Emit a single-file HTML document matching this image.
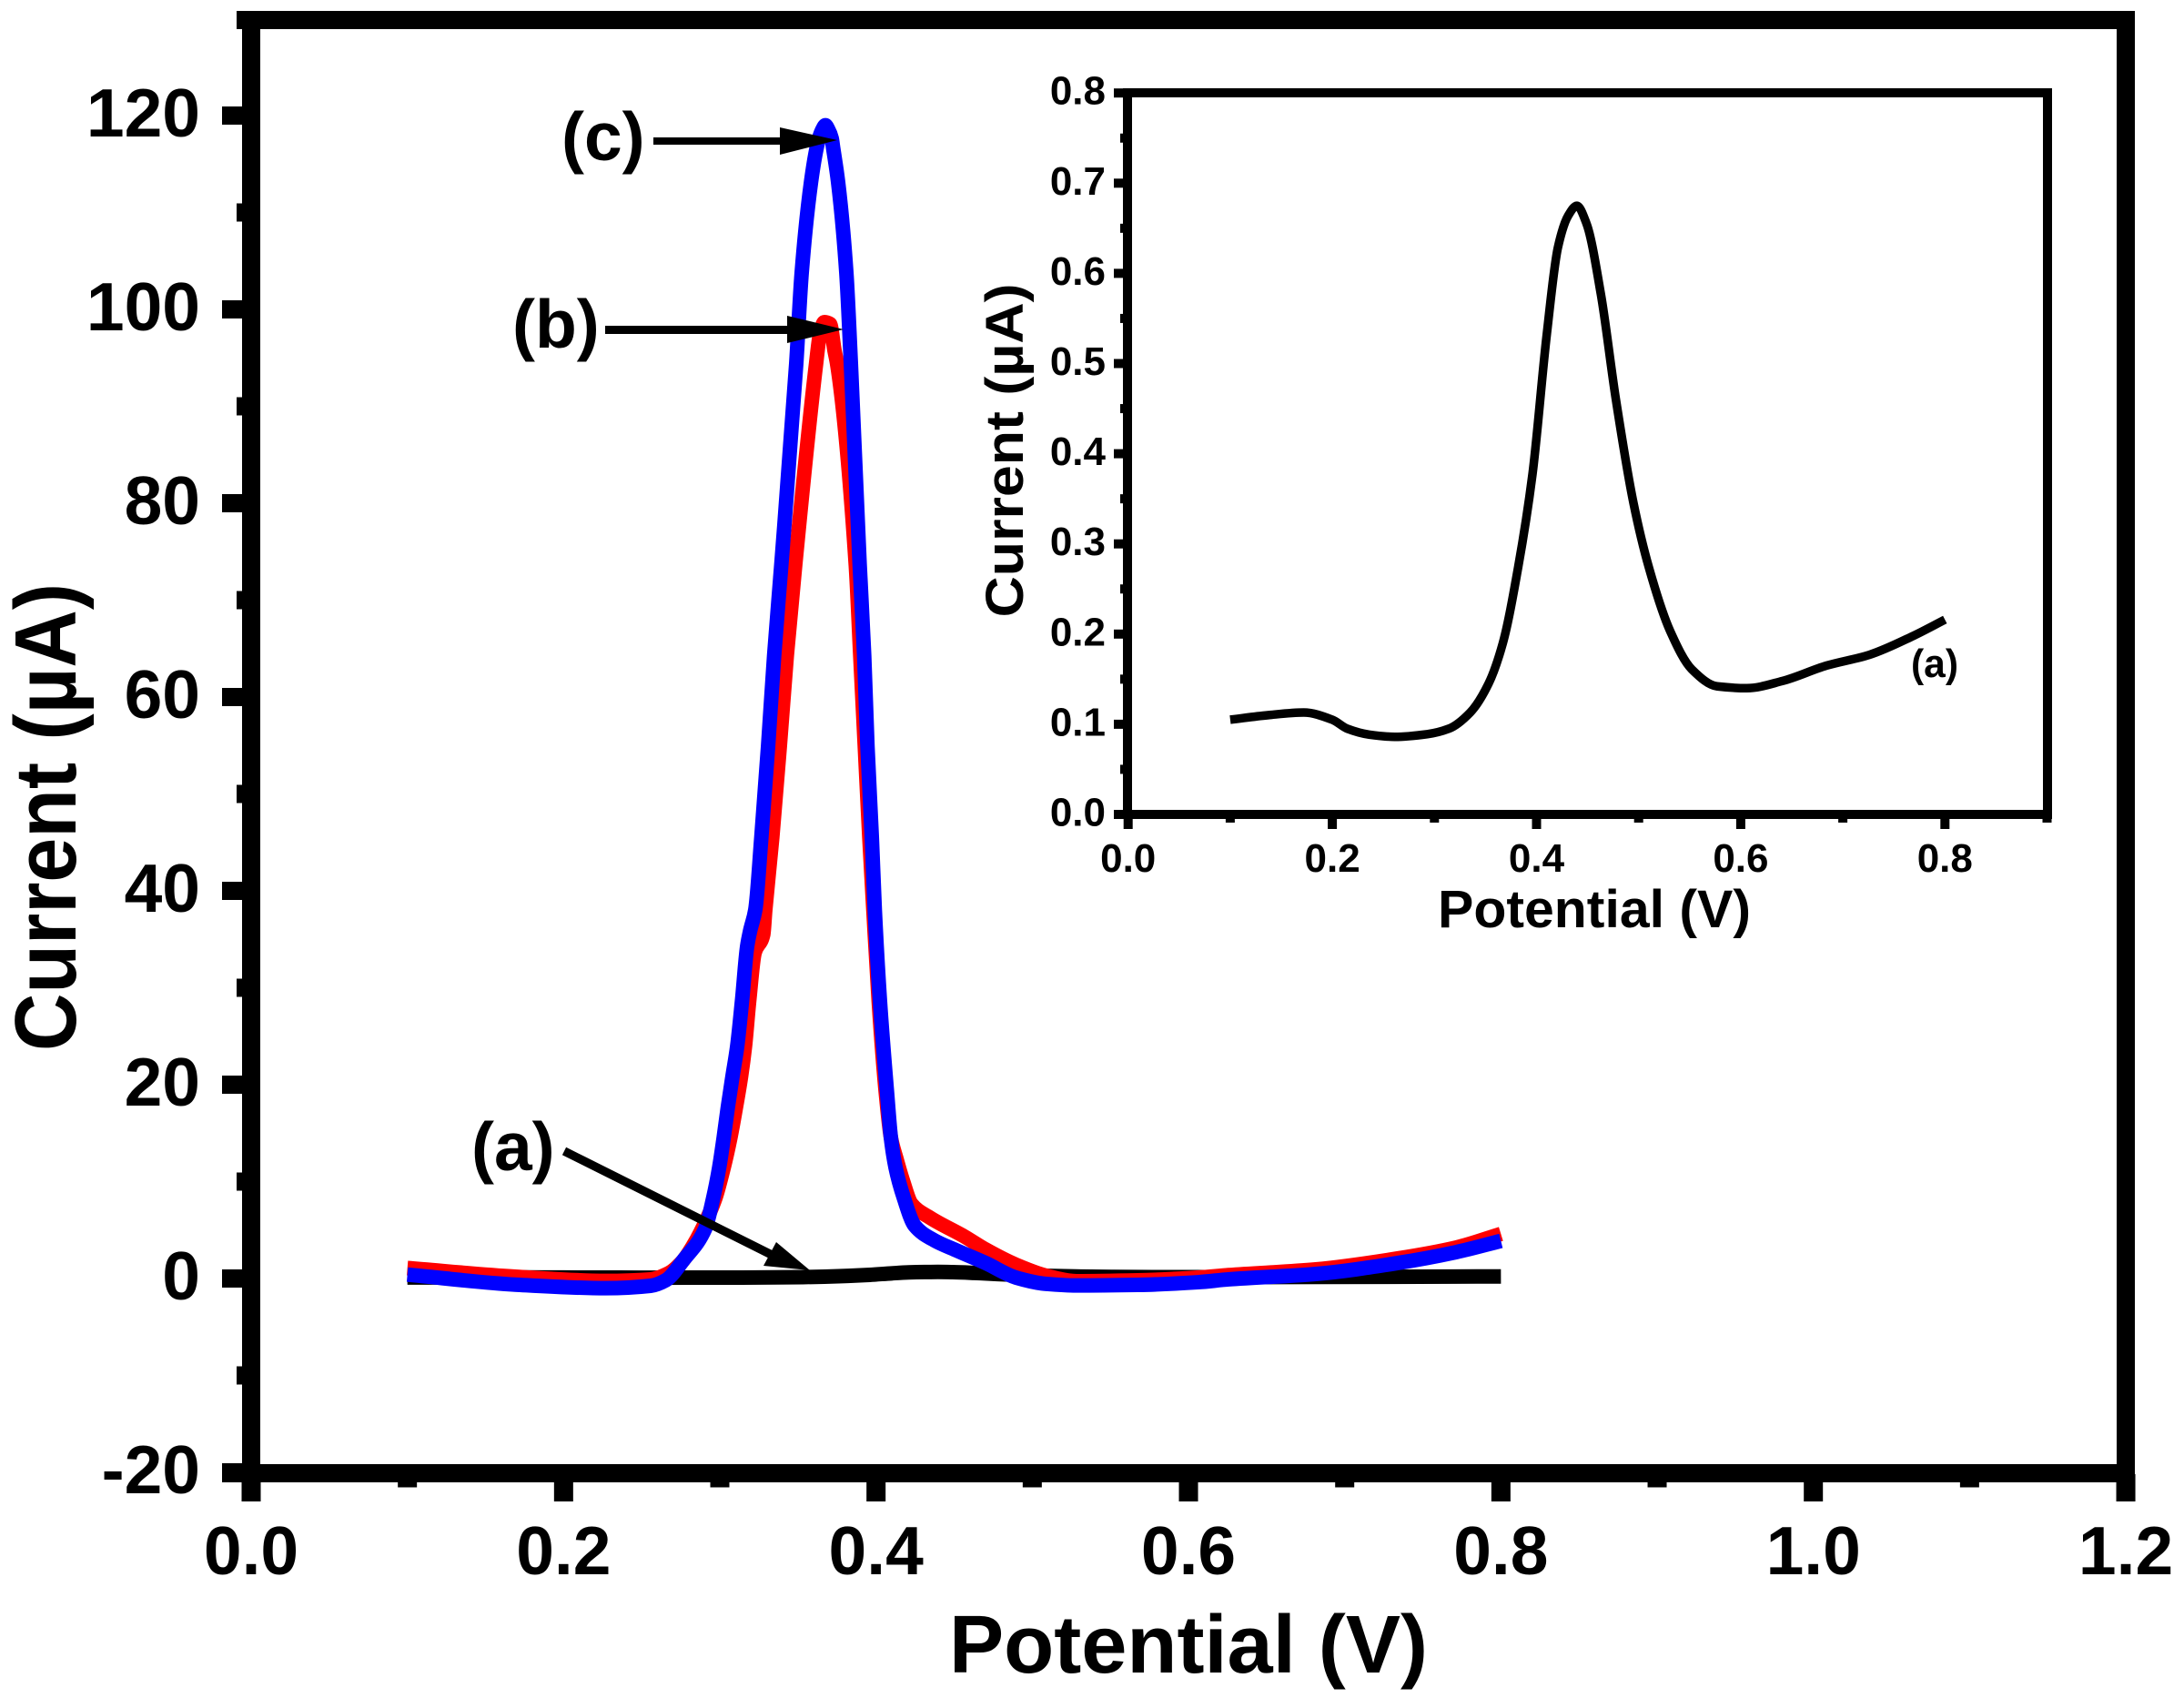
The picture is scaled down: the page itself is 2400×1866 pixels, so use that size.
<!DOCTYPE html>
<html lang="en">
<head>
<meta charset="utf-8">
<title>Current vs Potential</title>
<style>
html,body{margin:0;padding:0;background:#fff;}
svg{display:block;}
text{font-family:"Liberation Sans",Arial,sans-serif;font-weight:bold;fill:#000;}
</style>
</head>
<body>
<svg id="chart" xmlns="http://www.w3.org/2000/svg" width="2400" height="1866" viewBox="0 0 2400 1866">
  <rect x="0" y="0" width="2400" height="1866" fill="#fff"/>
  <g id="main-ticks"></g>
  <g id="main-series"></g>
  <g fill="#000">
    <rect x="260" y="12" width="2086" height="20"/>
    <rect x="266" y="12" width="20" height="1638"/>
    <rect x="2326" y="12" width="20" height="1638"/>
    <rect x="244" y="1609" width="2102" height="20"/>
  </g>
  <text x="1306" y="1838" font-size="90" text-anchor="middle" textLength="526" lengthAdjust="spacingAndGlyphs">Potential (V)</text>
  <text transform="translate(83,898) rotate(-90)" x="0" y="0" font-size="96" text-anchor="middle" textLength="514" lengthAdjust="spacingAndGlyphs">Current (µA)</text>

  <g>
    <text x="617" y="176" font-size="75">(c)</text>
    <rect x="718" y="151" width="142" height="8"/>
    <polygon points="857,140 920,154 857,170"/>
  </g>
  <g>
    <text x="563" y="382" font-size="75">(b)</text>
    <rect x="665" y="358" width="203" height="9"/>
    <polygon points="865,347 927,362 865,377"/>
  </g>
  <g>
    <text x="518" y="1286" font-size="75">(a)</text>
    <line x1="620" y1="1265" x2="850" y2="1380" stroke="#000" stroke-width="9.5"/>
    <polygon points="853,1365 890,1396 839,1391"/>
  </g>

  <g id="inset-ticks"></g>
  <rect x="1239" y="102" width="1011" height="793" fill="none" stroke="#000" stroke-width="10"/>
  <g id="inset-series"></g>
  <text x="1752" y="1019" font-size="58" text-anchor="middle" textLength="344" lengthAdjust="spacingAndGlyphs">Potential (V)</text>
  <text transform="translate(1124,495) rotate(-90)" x="0" y="0" font-size="58" text-anchor="middle" textLength="367" lengthAdjust="spacingAndGlyphs">Current (µA)</text>
  <text x="2100" y="744" font-size="44" textLength="52" lengthAdjust="spacingAndGlyphs">(a)</text>
</svg>
<script>
// Main plot ticks
const mainXTicks = [0.0, 0.2, 0.4, 0.6, 0.8, 1.0, 1.2];
const mainXTickLabels = ['0.0', '0.2', '0.4', '0.6', '0.8', '1.0', '1.2'];
const mainXMinor = [0.1, 0.3, 0.5, 0.7, 0.9, 1.1];
const mainYTicks = [-20, 0, 20, 40, 60, 80, 100, 120];
const mainYTickLabels = ['-20', '0', '20', '40', '60', '80', '100', '120'];
const mainYMinor = [-10, 10, 30, 50, 70, 90, 110];

// Inset ticks
const insetXTicks = [0.0, 0.2, 0.4, 0.6, 0.8];
const insetXTickLabels = ['0.0', '0.2', '0.4', '0.6', '0.8'];
const insetXMinor = [0.1, 0.3, 0.5, 0.7, 0.9];
const insetYTicks = [0.0, 0.1, 0.2, 0.3, 0.4, 0.5, 0.6, 0.7, 0.8];
const insetYTickLabels = ['0.0', '0.1', '0.2', '0.3', '0.4', '0.5', '0.6', '0.7', '0.8'];
const insetYMinor = [0.05, 0.15, 0.25, 0.35, 0.45, 0.55, 0.65, 0.75];

// Series (a): potential (V), current (uA)
const seriesAPotential = [0.1, 0.1365, 0.172, 0.2, 0.2147, 0.236, 0.261, 0.293, 0.314, 0.335, 0.353, 0.367, 0.382, 0.396, 0.41, 0.421, 0.431, 0.4395, 0.449, 0.463, 0.4776, 0.495, 0.51, 0.531, 0.552, 0.577, 0.606, 0.641, 0.684, 0.726, 0.769, 0.8];
const seriesACurrent = [0.105, 0.11, 0.113, 0.105, 0.095, 0.0885, 0.086, 0.089, 0.095, 0.113, 0.145, 0.19, 0.274, 0.377, 0.532, 0.629, 0.664, 0.675, 0.655, 0.577, 0.461, 0.345, 0.274, 0.203, 0.161, 0.142, 0.14, 0.148, 0.165, 0.177, 0.198, 0.216];

// Series (b)
const seriesBPotential = [0.1, 0.169, 0.227, 0.2557, 0.2674, 0.2761, 0.2825, 0.2888, 0.2971, 0.3025, 0.3068, 0.3103, 0.3136, 0.3161, 0.3188, 0.3223, 0.3278, 0.3291, 0.3336, 0.3384, 0.3429, 0.3483, 0.3616, 0.3641, 0.367, 0.3705, 0.3734, 0.3751, 0.387, 0.3899, 0.3928, 0.3957, 0.3983, 0.4017, 0.4062, 0.4095, 0.413, 0.4171, 0.4227, 0.4344, 0.4567, 0.4701, 0.4897, 0.5091, 0.5283, 0.5674, 0.6062, 0.6256, 0.6815, 0.734, 0.7713, 0.8];
const seriesBCurrent = [1.08, 0.19, -0.25, -0.09, 0.56, 1.78, 3.29, 5.16, 8.26, 11.45, 14.55, 17.65, 20.85, 23.94, 28.64, 33.62, 35.49, 38.03, 45.54, 54.93, 64.32, 73.71, 94.37, 97.46, 98.69, 98.5, 95.77, 94.37, 73.71, 64.32, 54.93, 45.54, 38.03, 28.64, 19.25, 14.55, 12.39, 10.14, 7.7, 6.29, 4.32, 3.0, 1.41, 0.28, -0.28, -0.19, 0.09, 0.35, 0.94, 2.07, 3.19, 4.6];

// Series (c)
const seriesCPotential = [0.1, 0.169, 0.227, 0.2557, 0.2656, 0.2767, 0.2907, 0.2957, 0.2996, 0.3025, 0.3051, 0.3081, 0.3111, 0.3142, 0.3175, 0.3194, 0.3227, 0.3266, 0.3309, 0.3348, 0.3394, 0.3489, 0.3524, 0.3584, 0.3619, 0.3635, 0.3658, 0.3676, 0.3693, 0.3716, 0.3726, 0.3757, 0.381, 0.3839, 0.3895, 0.3924, 0.3945, 0.3973, 0.3992, 0.4025, 0.407, 0.4095, 0.4125, 0.4179, 0.4247, 0.4373, 0.4509, 0.4701, 0.4897, 0.5091, 0.5283, 0.5674, 0.6062, 0.6256, 0.6815, 0.734, 0.7713, 0.8];
const seriesCCurrent = [0.4, -0.63, -1.0, -0.75, -0.16, 1.9, 5.16, 8.26, 11.45, 14.55, 17.65, 20.85, 23.94, 28.64, 34.27, 35.87, 38.03, 45.54, 54.93, 64.32, 73.71, 94.37, 103.76, 113.15, 116.6, 117.65, 118.6, 119.0, 118.6, 117.65, 116.6, 113.15, 103.76, 94.37, 73.71, 64.32, 54.93, 45.54, 38.03, 28.64, 19.25, 14.55, 11.45, 8.26, 5.45, 3.94, 2.94, 1.6, 0.09, -0.56, -0.72, -0.66, -0.38, -0.09, 0.47, 1.6, 2.72, 3.88];

const SVG_NS = 'http://www.w3.org/2000/svg';

function mainX(v) { return 276 + 1716.7 * v; }
function mainY(v) { return 1405 - 10.65 * v; }
function insetX(v) { return 1239.7 + 1122 * v; }
function insetY(v) { return 895 - 991 * v; }

function makeEl(tag, parent, attrs) {
  const el = document.createElementNS(SVG_NS, tag);
  for (const k in attrs) el.setAttribute(k, attrs[k]);
  parent.appendChild(el);
  return el;
}

// Smooth path through the data points (monotone cubic, no overshoot)
function pathFrom(xs, ys, fx, fy) {
  const px = xs.map(fx);
  const py = ys.map(fy);
  const n = px.length;
  const slopes = [];
  for (let i = 0; i < n - 1; i++) slopes.push((py[i + 1] - py[i]) / (px[i + 1] - px[i]));
  const tangents = [slopes[0]];
  for (let i = 1; i < n - 1; i++) {
    if (slopes[i - 1] * slopes[i] <= 0) {
      tangents.push(0);
    } else {
      const h0 = px[i] - px[i - 1];
      const h1 = px[i + 1] - px[i];
      tangents.push((h0 + h1) * 3 / ((2 * h1 + h0) / slopes[i - 1] + (h1 + 2 * h0) / slopes[i]));
    }
  }
  tangents.push(slopes[n - 2]);
  let d = 'M' + px[0].toFixed(1) + ' ' + py[0].toFixed(1);
  for (let i = 0; i < n - 1; i++) {
    const h = (px[i + 1] - px[i]) / 3;
    d += ' C' + (px[i] + h).toFixed(2) + ' ' + (py[i] + tangents[i] * h).toFixed(2) +
      ' ' + (px[i + 1] - h).toFixed(2) + ' ' + (py[i + 1] - tangents[i + 1] * h).toFixed(2) +
      ' ' + px[i + 1].toFixed(2) + ' ' + py[i + 1].toFixed(2);
  }
  return d;
}

const mainTicks = document.getElementById('main-ticks');
const insetTicks = document.getElementById('inset-ticks');
const mainSeries = document.getElementById('main-series');
const insetSeries = document.getElementById('inset-series');

mainXTicks.forEach(function (v, i) {
  const t = makeEl('rect', mainTicks, { x: mainX(v) - 10.5, y: 1620, width: 21, height: 30, fill: '#000' });
  
  
  const l = makeEl('text', mainTicks, { x: mainX(v), y: 1730, 'font-size': 75, 'text-anchor': 'middle' });
  l.textContent = mainXTickLabels[i];
  
  
});
mainXMinor.forEach(function (v) {
  const t = makeEl('rect', mainTicks, { x: mainX(v) - 10.5, y: 1620, width: 21, height: 14.5, fill: '#000' });
  
  
});
mainYTicks.forEach(function (v, i) {
  const t = makeEl('rect', mainTicks, { x: 244, y: mainY(v) - 10, width: 30, height: 20, fill: '#000' });
  
  
  const l = makeEl('text', mainTicks, { x: 220, y: mainY(v) + 23, 'font-size': 75, 'text-anchor': 'end' });
  l.textContent = mainYTickLabels[i];
  
  
});
mainYMinor.forEach(function (v) {
  const t = makeEl('rect', mainTicks, { x: 260, y: mainY(v) - 10, width: 14, height: 20, fill: '#000' });
  
  
});

insetXTicks.forEach(function (v, i) {
  const t = makeEl('rect', insetTicks, { x: insetX(v) - 5, y: 895, width: 10, height: 16, fill: '#000' });
  
  
  const l = makeEl('text', insetTicks, { x: insetX(v), y: 958, 'font-size': 44, 'text-anchor': 'middle' });
  l.textContent = insetXTickLabels[i];
  
  
});
insetXMinor.forEach(function (v) {
  const t = makeEl('rect', insetTicks, { x: insetX(v) - 5, y: 895, width: 10, height: 9, fill: '#000' });
  
  
});
insetYTicks.forEach(function (v, i) {
  const t = makeEl('rect', insetTicks, { x: 1224, y: insetY(v) - 5, width: 16, height: 10, fill: '#000' });
  
  
  const l = makeEl('text', insetTicks, { x: 1215, y: insetY(v) + 12.5, 'font-size': 44, 'text-anchor': 'end' });
  l.textContent = insetYTickLabels[i];
  
  
});
insetYMinor.forEach(function (v) {
  const t = makeEl('rect', insetTicks, { x: 1231, y: insetY(v) - 5, width: 9, height: 10, fill: '#000' });
  
  
});

const lineA = makeEl('path', mainSeries, { d: pathFrom(seriesAPotential, seriesACurrent, mainX, mainY), fill: 'none', stroke: '#000', 'stroke-width': 16, 'stroke-linejoin': 'round' });



const lineB = makeEl('path', mainSeries, { d: pathFrom(seriesBPotential, seriesBCurrent, mainX, mainY), fill: 'none', stroke: '#ff0000', 'stroke-width': 16, 'stroke-linejoin': 'round' });



const lineC = makeEl('path', mainSeries, { d: pathFrom(seriesCPotential, seriesCCurrent, mainX, mainY), fill: 'none', stroke: '#0000ff', 'stroke-width': 16, 'stroke-linejoin': 'round' });



const lineInset = makeEl('path', insetSeries, { d: pathFrom(seriesAPotential, seriesACurrent, insetX, insetY), fill: 'none', stroke: '#000', 'stroke-width': 9.5, 'stroke-linejoin': 'round' });


</script>
</body>
</html>
